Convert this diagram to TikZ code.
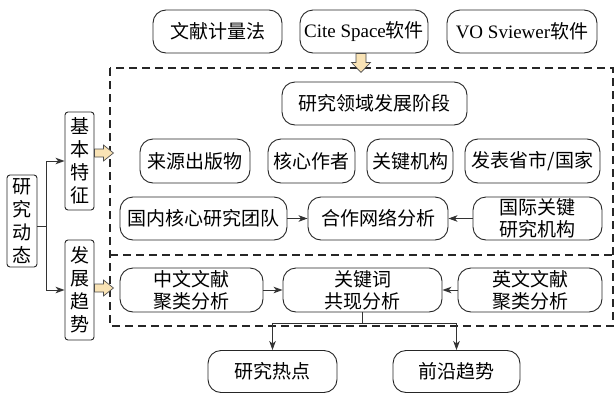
\documentclass[tikz,border=0pt]{standalone}
\usepackage{fontspec}
\setmainfont{Liberation Serif}
\newfontfamily\cjk{Noto Sans CJK SC}
\usetikzlibrary{arrows.meta}
\definecolor{beige}{HTML}{F9E3B5}
\begin{document}
\begin{tikzpicture}[x=1pt,y=-1pt,
  box/.style={draw=black!85, line width=0.9pt, rounded corners=13pt, minimum height=43pt, inner sep=0pt, font=\fontsize{19}{22}\selectfont\cjk, align=center},
  vbox/.style={draw=black!85, line width=0.9pt, rounded corners=3pt, inner sep=0pt, font=\fontsize{19}{23}\selectfont\cjk, align=center},
  arr/.style={-{Stealth[length=9pt,width=6.5pt,inset=2.5pt]}, line width=0.9pt, draw=black!80},
  ln/.style={line width=0.9pt, draw=black!80},
  barrow/.style={draw=black!70, line width=0.7pt, fill=beige, line join=miter},
  dbox/.style={draw=black!85, line width=1.3pt, dash pattern=on 8pt off 5pt}]
\useasboundingbox (0,0) rectangle (616,394);

% dashed frame
\draw[dbox] (110,68) rectangle (613,326);
\draw[dbox] (110,255) -- (613,255);

% top row
\node[box, minimum width=129pt] (wx) at (217.5,31.5) {文献计量法};
\node[box, minimum width=128pt] (cs) at (364,31.5) {{\rmfamily Cite Space}软件};
\node[box, minimum width=150pt] (vo) at (522,31.5) {{\rmfamily VO Sviewer}软件};

% basic features block
\node[box, minimum width=185pt] (stage) at (374.5,103.5) {研究领域发展阶段};
\node[box, minimum width=110pt, minimum height=44pt] (ly) at (195,161) {来源出版物};
\node[box, minimum width=87pt, minimum height=44pt] (hx) at (311.5,161) {核心作者};
\node[box, minimum width=86pt, minimum height=44pt] (gj) at (410,161) {关键机构};
\node[box, minimum width=135pt, minimum height=44pt] (fb) at (532.5,161) {发表省市/国家};
\node[box, minimum width=167pt] (gn) at (203.5,218.5) {国内核心研究团队};
\node[box, minimum width=140pt] (hz) at (378,218.5) {合作网络分析};
\node[box, minimum width=129pt] (gjj) at (537.5,218.5) {国际关键\\研究机构};

% trend block
\node[box, minimum width=143pt, minimum height=44pt] (zw) at (191.5,290) {中文文献\\聚类分析};
\node[box, minimum width=159pt, minimum height=44pt] (gjc) at (362.5,290) {关键词\\共现分析};
\node[box, minimum width=144pt, minimum height=44pt] (yw) at (530,290) {英文文献\\聚类分析};

% outputs
\node[box, minimum width=129pt, minimum height=42pt] (rd) at (272.5,371.5) {研究热点};
\node[box, minimum width=127pt, minimum height=42pt] (qy) at (456.5,371.5) {前沿趋势};

% left column
\node[vbox, minimum width=30pt, minimum height=92pt] (dt) at (22,221) {研\\究\\动\\态};
\node[vbox, minimum width=29pt, minimum height=98pt] (jb) at (79.5,161) {基\\本\\特\\征};
\node[vbox, minimum width=29pt, minimum height=100pt] (fz) at (79.5,290) {发\\展\\趋\\势};

% connectors
\coordinate (j) at (46,226);
\draw[ln] ([yshift=-5pt]dt.east) -- (j);
\draw[arr] (j) |- (jb.west);
\draw[arr] (j) |- (fz.west);

\draw[arr] (gn) -- (hz);
\draw[arr] (gjj) -- (hz);
\draw[arr] (zw) -- (gjc);
\draw[arr] (yw) -- (gjc);

\coordinate (b) at ([yshift=-11pt]gjc.south);
\draw[ln] (gjc.south) -- (b);
\draw[arr] (b) -| (rd.north);
\draw[arr] (b) -| (qy.north);

% block arrows
\draw[barrow] (jb.east |- 0,149) -- ++(9,0) -- ++(0,-4) -- ++(10,8) -- ++(-10,8) -- ++(0,-4) -- ++(-9,0) -- cycle;
\draw[barrow] (fz.east |- 0,284) -- ++(9,0) -- ++(0,-4) -- ++(10,8) -- ++(-10,8) -- ++(0,-4) -- ++(-9,0) -- cycle;
\draw[barrow] (cs.south -| 356,0) -- ++(0,9) -- ++(-4.5,0) -- ++(9.5,10) -- ++(9.5,-10) -- ++(-4.5,0) -- ++(0,-9) -- cycle;
\end{tikzpicture}
\end{document}
